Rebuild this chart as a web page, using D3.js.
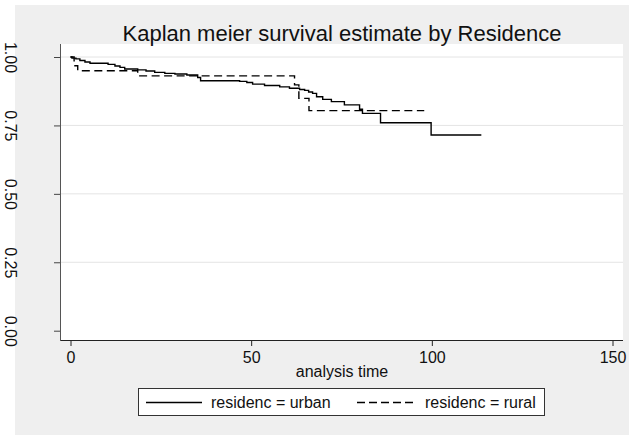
<!DOCTYPE html>
<html>
<head>
<meta charset="utf-8">
<script src="https://cdn.jsdelivr.net/npm/d3@7"></script>
<style>
  body { margin: 0; background: #fff; }
  svg { display: block; font-family: Arial, "Liberation Sans", sans-serif; }
</style>
</head>
<body>
<svg id="chart" width="629" height="435"></svg>
<script>
// ---- data ----
const urbanTimes = [0, 0.4, 1.5, 2.6, 4, 5.4, 10.4, 12.3, 13.7, 15, 18.6, 20.9, 23.3, 26.1, 28.9, 32.2, 35.2, 36,
                    46.8, 48.8, 50.4, 53.7, 57.9, 60.6, 63.4, 64.8, 65.9, 67, 68.1, 69.8, 72.2, 75.8, 80, 80.8, 85.8, 99.8];
const urbanSurv  = [1, 0.996, 0.993, 0.987, 0.982, 0.977, 0.973, 0.967, 0.962, 0.956, 0.953, 0.949, 0.944, 0.940, 0.938, 0.934, 0.925, 0.913,
                    0.911, 0.907, 0.901, 0.896, 0.891, 0.886, 0.881, 0.878, 0.872, 0.867, 0.855, 0.845, 0.837, 0.825, 0.809, 0.794, 0.760, 0.715];
const urbanEnd = 113.7;

const ruralTimes = [0, 1, 2, 18.6, 62, 63.2, 66];
const ruralSurv  = [1, 0.968, 0.950, 0.931, 0.898, 0.849, 0.804];
const ruralEnd = 97.9;

const xTicks = [0, 50, 100, 150];
const yTicks = [0, 0.25, 0.5, 0.75, 1];
const yTickLabels = ["0.00", "0.25", "0.50", "0.75", "1.00"];

const titleText = "Kaplan meier survival estimate by Residence";
const xTitle = "analysis time";
const legendLabels = ["residenc = urban", "residenc = rural"];

// ---- layout ----
const svg = d3.select("#chart");
const W = 629, H = 435;
const box = { left: 61, right: 623, top: 44, bottom: 340 };

const x = d3.scaleLinear().domain([0, 150]).range([70.5, 612.5]);
const y = d3.scaleLinear().domain([0, 1]).range([330.7, 57]);

// outer background
svg.append("rect").attr("width", W).attr("height", H).attr("fill", "#ffffff");
svg.append("rect").attr("x", 15).attr("y", 5).attr("width", W - 15).attr("height", H - 5).attr("fill", "#efefef");

// plot region
svg.append("rect")
  .attr("x", box.left).attr("y", box.top)
  .attr("width", box.right - box.left).attr("height", box.bottom - box.top)
  .attr("fill", "#ffffff");

// gridlines
svg.append("g").selectAll("line")
  .data(yTicks.filter(d => d > 0))
  .enter().append("line")
  .attr("x1", box.left).attr("x2", box.right)
  .attr("y1", d => y(d)).attr("y2", d => y(d))
  .attr("stroke", "#e4e4e4").attr("stroke-width", 1);

// title
svg.append("text")
  .attr("x", (box.left + box.right) / 2).attr("y", 41)
  .attr("text-anchor", "middle")
  .attr("font-size", 22).attr("fill", "#111")
  .text(titleText);

// x axis
const xAxis = svg.append("g")
  .attr("transform", `translate(0,${box.bottom})`)
  .call(d3.axisBottom(x).tickValues(xTicks).tickSize(6).tickPadding(5.5).tickSizeOuter(0));
xAxis.select(".domain").remove();
xAxis.selectAll("line").attr("stroke", "#222");
xAxis.selectAll("text").attr("font-size", 16).attr("fill", "#111").attr("font-family", null);
svg.append("line")
  .attr("x1", box.left).attr("x2", box.right)
  .attr("y1", box.bottom + 0.5).attr("y2", box.bottom + 0.5)
  .attr("stroke", "#222").attr("stroke-width", 1);

// y axis
const yAxis = svg.append("g")
  .attr("transform", `translate(${box.left},0)`)
  .call(d3.axisLeft(y).tickValues(yTicks).tickSize(7).tickSizeOuter(0)
    .tickFormat((d, i) => yTickLabels[i]));
yAxis.select(".domain").remove();
yAxis.selectAll("line").attr("stroke", "#444");
yAxis.selectAll("text")
  .attr("x", null).attr("dy", null)
  .attr("text-anchor", "middle")
  .attr("transform", `translate(${4.5 - box.left},0) rotate(90)`)
  .attr("font-size", 16).attr("fill", "#111").attr("font-family", null);
svg.append("line")
  .attr("x1", box.left - 0.5).attr("x2", box.left - 0.5)
  .attr("y1", box.top).attr("y2", box.bottom + 1)
  .attr("stroke", "#555").attr("stroke-width", 1);

// x title
svg.append("text")
  .attr("x", (box.left + box.right) / 2).attr("y", 377)
  .attr("text-anchor", "middle")
  .attr("font-size", 16).attr("fill", "#111")
  .text(xTitle);

// survival curves
const stepLine = d3.line()
  .x(d => x(d[0]))
  .y(d => y(d[1]))
  .curve(d3.curveStepAfter);

function stepPoints(times, surv, end) {
  const pts = times.map((t, i) => [t, surv[i]]);
  pts.push([end, surv[surv.length - 1]]);
  return pts;
}

const curves = svg.append("g").attr("fill", "none").attr("stroke", "#000").attr("stroke-width", 1.4);
curves.append("path")
  .attr("d", stepLine(stepPoints(urbanTimes, urbanSurv, urbanEnd)));
curves.append("path")
  .attr("stroke-dasharray", "8,4.5")
  .attr("d", stepLine(stepPoints(ruralTimes, ruralSurv, ruralEnd)));

// legend
const legend = svg.append("g");
legend.append("rect")
  .attr("x", 138.5).attr("y", 388.5).attr("width", 406).attr("height", 27)
  .attr("fill", "#fff").attr("stroke", "#333").attr("stroke-width", 1);
legend.append("line")
  .attr("x1", 146).attr("x2", 202).attr("y1", 402.5).attr("y2", 402.5)
  .attr("stroke", "#000").attr("stroke-width", 1.4);
legend.append("text")
  .attr("x", 211).attr("y", 408).attr("font-size", 16).attr("fill", "#111")
  .text(legendLabels[0]);
legend.append("line")
  .attr("x1", 357).attr("x2", 413).attr("y1", 402.5).attr("y2", 402.5)
  .attr("stroke", "#000").attr("stroke-width", 1.4).attr("stroke-dasharray", "8,4");
legend.append("text")
  .attr("x", 425).attr("y", 408).attr("font-size", 16).attr("fill", "#111")
  .text(legendLabels[1]);
</script>
</body>
</html>
